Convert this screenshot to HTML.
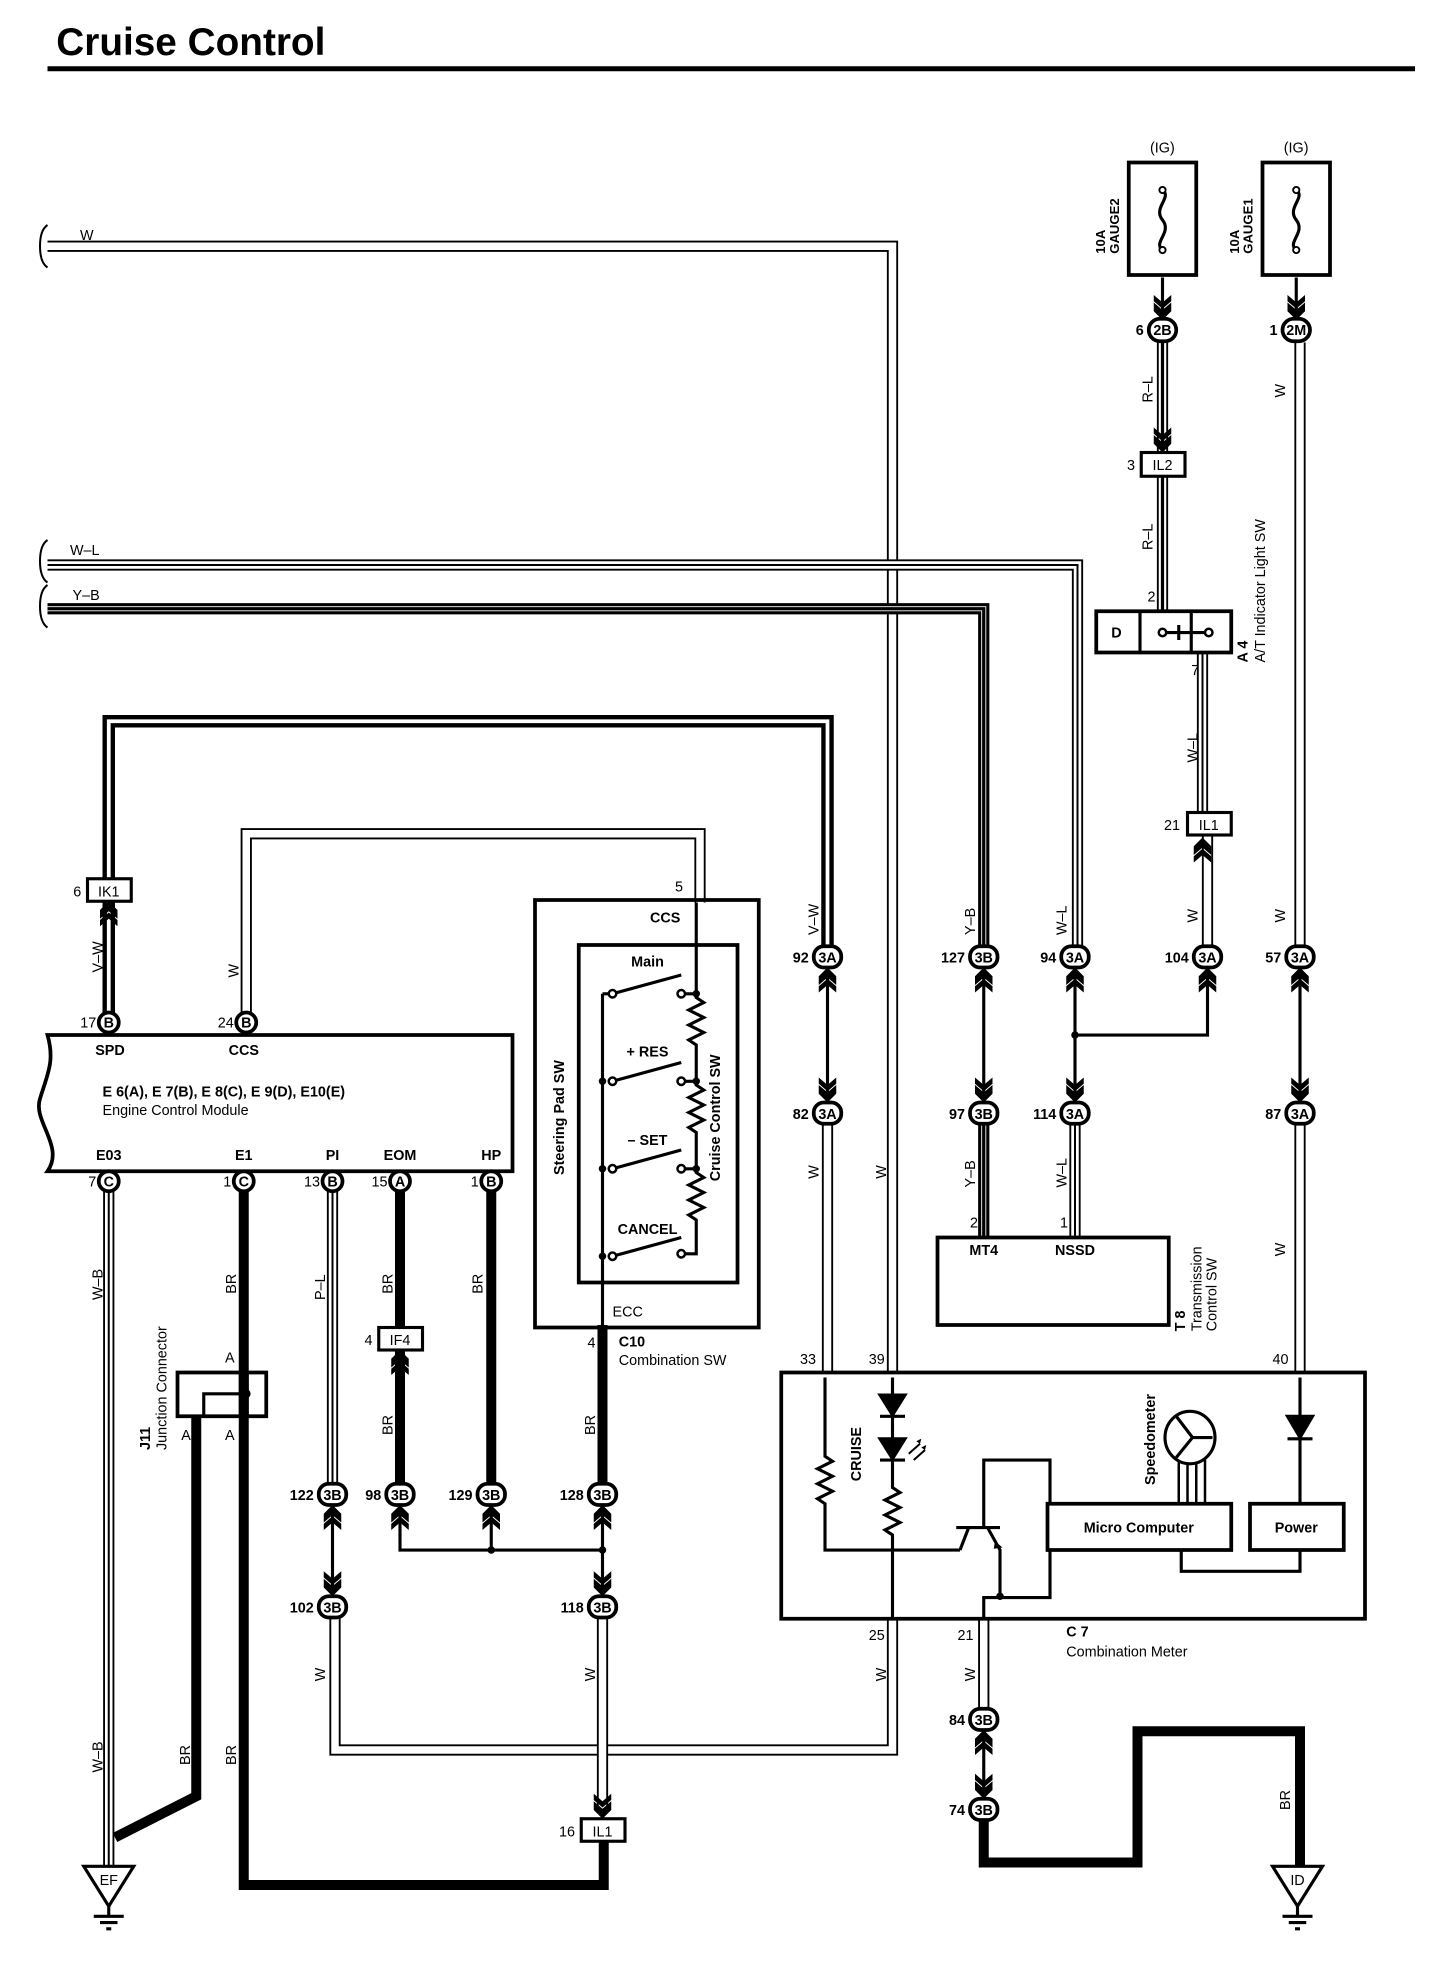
<!DOCTYPE html>
<html><head><meta charset="utf-8"><style>
html,body{margin:0;padding:0;background:#fff}
svg{display:block}
text{font-family:"Liberation Sans",sans-serif;font-size:11.5px;fill:#000}
.b{font-weight:bold}
.o{stroke:#000;stroke-width:9;fill:none;stroke-linejoin:miter}
.i{stroke:#fff;stroke-width:6;fill:none;stroke-linejoin:miter}
.ib{stroke:#fff;stroke-width:4;fill:none}
.c{stroke:#000;stroke-width:1.6;fill:none}
.cb{stroke:#000;stroke-width:2.6;fill:none}
.k{stroke:#000;stroke-width:8;fill:none;stroke-linejoin:miter}
.t{stroke:#000;stroke-width:2.5;fill:none}
.bx{stroke:#000;stroke-width:3;fill:none}
</style></head><body>
<svg width="1456" height="1974" viewBox="0 0 1164.8 1579.2" xmlns="http://www.w3.org/2000/svg">
<defs>
<path id="pW1" d="M38,197 H714 V1098"/>
<path id="pW2" d="M714,1295 V1400 H268 V1293"/>
<path id="pWL" d="M38,452 H862 V757"/>
<path id="pYB" d="M38,487 H787 V757"/>
<path id="pVW" d="M87,810 V577 H662 V757"/>
<path id="pCCS" d="M197,810 V667 H560 V722"/>
<path id="pR" d="M930,274 V362 M930,381 V489"/>
<path id="pWL2" d="M962,522 V650"/>
<path id="pW104" d="M966,668 V757"/>
<path id="p2M" d="M1040,274 V757"/>
<path id="pW82" d="M662,898 V1098"/>
<path id="pYB2" d="M787,898 V990"/>
<path id="pWL3" d="M860,898 V990"/>
<path id="pW87" d="M1040,898 V1098"/>
<path id="pWB" d="M87,953 V1492"/>
<path id="pPL" d="M266,953 V1187"/>
<path id="pW118" d="M482,1293 V1448"/>
<path id="pW21" d="M787,1295 V1367"/>
<g id="chd"><path d="M-7,-9 L0,-3 L7,-9 L7,-2 L0,5 L-7,-2 Z M-7,-15 L0,-9 L7,-15 L7,-10 L0,-4 L-7,-10 Z" fill="#000"/></g>
<g id="chu"><path d="M-7,9 L0,3 L7,9 L7,2 L0,-5 L-7,2 Z M-7,15 L0,9 L7,15 L7,10 L0,4 L-7,10 Z" fill="#000"/></g>
</defs>

<text x="45" y="44" class="b" style="font-size:31px">Cruise Control</text>
<rect x="38" y="53" width="1094" height="4" fill="#000"/>

<path d="M38,180 q-6,4 -6,17 q0,13 6,17" class="c"/>
<path d="M38,432 q-6,4 -6,17 q0,13 6,17" class="c"/>
<path d="M38,468 q-6,4 -6,17 q0,13 6,17" class="c"/>
<text x="64" y="192">W</text>
<text x="56" y="444">W–L</text>
<text x="58" y="480">Y–B</text>

<use href="#pW1" class="o"/><use href="#pW1" class="i"/>
<use href="#pW2" class="o"/><use href="#pW2" class="i"/>
<use href="#pWL" class="o"/><use href="#pWL" class="i"/><use href="#pWL" class="c"/>
<use href="#pYB" class="o"/><use href="#pYB" class="ib"/><use href="#pYB" class="cb"/>
<use href="#pVW" class="o" style="stroke-width:10"/><use href="#pVW" class="i" style="stroke-width:3"/>
<use href="#pCCS" class="o"/><use href="#pCCS" class="i"/>
<use href="#pR" class="o"/><use href="#pR" class="i"/><use href="#pR" class="cb"/>
<use href="#pWL2" class="o"/><use href="#pWL2" class="i"/><use href="#pWL2" class="c"/>
<use href="#pW104" class="o"/><use href="#pW104" class="i"/>
<use href="#p2M" class="o"/><use href="#p2M" class="i"/>
<use href="#pW82" class="o"/><use href="#pW82" class="i"/>
<use href="#pYB2" class="o"/><use href="#pYB2" class="ib"/><use href="#pYB2" class="cb"/>
<use href="#pWL3" class="o"/><use href="#pWL3" class="i"/><use href="#pWL3" class="c"/>
<use href="#pW87" class="o"/><use href="#pW87" class="i"/>
<use href="#pWB" class="o"/><use href="#pWB" class="i"/><use href="#pWB" class="c"/>
<use href="#pPL" class="o"/><use href="#pPL" class="i"/><use href="#pPL" class="c"/>
<use href="#pW118" class="o"/><use href="#pW118" class="i"/>
<use href="#pW21" class="o"/><use href="#pW21" class="i"/>

<path d="M195,953 V1508 H483 V1473" class="k"/>
<path d="M157,1133 V1437 L92,1470" class="k"/>
<path d="M320,953 V1062 M320,1080 V1187" class="k"/>
<path d="M393,953 V1187" class="k"/>
<path d="M482,1060 V1187" class="k"/>
<path d="M787,1455 V1490 H910 V1385 H1040 V1493" class="k"/>

<path d="M662,773 V882 M787,773 V882 M860,773 V882 M966,773 V828 H860 M1040,773 V882" class="t"/>
<circle cx="860" cy="828" r="3" fill="#000"/>
<path d="M266,1203 V1277 M320,1203 V1240 H482 M393,1203 V1240 M482,1203 V1277 M787,1383 V1439" class="t"/>
<circle cx="393" cy="1240" r="3" fill="#000"/><circle cx="482" cy="1240" r="3" fill="#000"/>
<path d="M930,222 V250 M1037,222 V250" class="t"/>

<text x="920" y="122">(IG)</text><text x="1027" y="122">(IG)</text>
<rect x="903" y="130" width="54" height="90" class="bx"/>
<rect x="1010" y="130" width="54" height="90" class="bx"/>
<path d="M930,152 c8,6 -8,14 0,24 c8,10 -8,18 0,24" class="t"/>
<circle cx="930" cy="152" r="2.5" fill="#fff" stroke="#000" stroke-width="1.5"/><circle cx="930" cy="200" r="2.5" fill="#fff" stroke="#000" stroke-width="1.5"/>
<path d="M1037,152 c8,6 -8,14 0,24 c8,10 -8,18 0,24" class="t"/>
<circle cx="1037" cy="152" r="2.5" fill="#fff" stroke="#000" stroke-width="1.5"/><circle cx="1037" cy="200" r="2.5" fill="#fff" stroke="#000" stroke-width="1.5"/>
<text transform="translate(884,203) rotate(-90)" class="b" style="font-size:10.5px">10A</text>
<text transform="translate(895,203) rotate(-90)" class="b" style="font-size:10.5px">GAUGE2</text>
<text transform="translate(991,203) rotate(-90)" class="b" style="font-size:10.5px">10A</text>
<text transform="translate(1002,203) rotate(-90)" class="b" style="font-size:10.5px">GAUGE1</text>

<g fill="#fff" stroke="#000" stroke-width="3">
<rect x="919" y="255" width="22" height="18" rx="9"/>
<rect x="1026" y="255" width="22" height="18" rx="9"/>
<rect x="651" y="757" width="22" height="17" rx="8"/>
<rect x="776" y="757" width="22" height="17" rx="8"/>
<rect x="849" y="757" width="22" height="17" rx="8"/>
<rect x="955" y="757" width="22" height="17" rx="8"/>
<rect x="1029" y="757" width="22" height="17" rx="8"/>
<rect x="651" y="882" width="22" height="17" rx="8"/>
<rect x="776" y="882" width="22" height="17" rx="8"/>
<rect x="849" y="882" width="22" height="17" rx="8"/>
<rect x="1029" y="882" width="22" height="17" rx="8"/>
<rect x="255" y="1187" width="22" height="17" rx="8"/>
<rect x="309" y="1187" width="22" height="17" rx="8"/>
<rect x="382" y="1187" width="22" height="17" rx="8"/>
<rect x="471" y="1187" width="22" height="17" rx="8"/>
<rect x="255" y="1277" width="22" height="17" rx="8"/>
<rect x="471" y="1277" width="22" height="17" rx="8"/>
<rect x="776" y="1367" width="22" height="17" rx="8"/>
<rect x="776" y="1439" width="22" height="17" rx="8"/>
<circle cx="87" cy="818" r="8"/><circle cx="197" cy="818" r="8"/>
<circle cx="87" cy="945" r="8"/><circle cx="195" cy="945" r="8"/><circle cx="266" cy="945" r="8"/><circle cx="320" cy="945" r="8"/><circle cx="393" cy="945" r="8"/>
</g>
<g class="b" style="font-size:10px" text-anchor="middle">
<text x="930" y="268">2B</text><text x="1037" y="268">2M</text>
<text x="662" y="770">3A</text><text x="787" y="770">3B</text><text x="860" y="770">3A</text><text x="966" y="770">3A</text><text x="1040" y="770">3A</text>
<text x="662" y="895">3A</text><text x="787" y="895">3B</text><text x="860" y="895">3A</text><text x="1040" y="895">3A</text>
<text x="266" y="1200">3B</text><text x="320" y="1200">3B</text><text x="393" y="1200">3B</text><text x="482" y="1200">3B</text>
<text x="266" y="1290">3B</text><text x="482" y="1290">3B</text>
<text x="787" y="1380">3B</text><text x="787" y="1452">3B</text>
<text x="87" y="822">B</text><text x="197" y="822">B</text>
<text x="87" y="949">C</text><text x="195" y="949">C</text><text x="266" y="949">B</text><text x="320" y="949">A</text><text x="393" y="949">B</text>
</g>
<g class="b" text-anchor="end">
<text x="915" y="268">6</text><text x="1022" y="268">1</text>
<text x="647" y="770">92</text><text x="772" y="770">127</text><text x="845" y="770">94</text><text x="951" y="770">104</text><text x="1025" y="770">57</text>
<text x="647" y="895">82</text><text x="772" y="895">97</text><text x="845" y="895">114</text><text x="1025" y="895">87</text>
<text x="251" y="1200">122</text><text x="305" y="1200">98</text><text x="378" y="1200">129</text><text x="467" y="1200">128</text>
<text x="251" y="1290">102</text><text x="467" y="1290">118</text>
<text x="772" y="1380">84</text><text x="772" y="1452">74</text>
</g>
<g text-anchor="end">
<text x="77" y="822">17</text><text x="187" y="822">24</text>
<text x="77" y="949">7</text><text x="185" y="949">1</text><text x="256" y="949">13</text><text x="310" y="949">15</text><text x="383" y="949">1</text>
</g>

<use href="#chd" x="930" y="251"/><use href="#chd" x="1037" y="251"/>
<use href="#chd" x="930" y="357"/>
<use href="#chu" x="962" y="675"/>
<use href="#chu" x="87" y="726"/>
<use href="#chu" x="662" y="779"/><use href="#chu" x="787" y="779"/><use href="#chu" x="860" y="779"/><use href="#chu" x="966" y="779"/><use href="#chu" x="1040" y="779"/>
<use href="#chd" x="662" y="877"/><use href="#chd" x="787" y="877"/><use href="#chd" x="860" y="877"/><use href="#chd" x="1040" y="877"/>
<use href="#chu" x="320" y="1085"/>
<use href="#chu" x="266" y="1209"/><use href="#chu" x="320" y="1209"/><use href="#chu" x="393" y="1209"/><use href="#chu" x="482" y="1209"/>
<use href="#chd" x="266" y="1272"/><use href="#chd" x="482" y="1272"/>
<use href="#chd" x="482" y="1450"/>
<use href="#chu" x="787" y="1389"/><use href="#chd" x="787" y="1434"/>

<g fill="#fff" stroke="#000" stroke-width="2.5">
<rect x="913" y="362" width="35" height="19"/>
<rect x="950" y="650" width="35" height="18"/>
<rect x="70" y="703" width="35" height="18"/>
<rect x="303" y="1062" width="35" height="18"/>
<rect x="465" y="1455" width="35" height="18"/>
</g>
<g text-anchor="middle">
<text x="930" y="376">IL2</text><text x="967" y="664">IL1</text><text x="87" y="717">IK1</text><text x="320" y="1076">IF4</text><text x="482" y="1469">IL1</text>
</g>
<g text-anchor="end">
<text x="908" y="376">3</text><text x="944" y="664">21</text><text x="65" y="717">6</text><text x="298" y="1076">4</text><text x="460" y="1469">16</text>
</g>

<rect x="877" y="489" width="108" height="33" class="bx" fill="#fff"/>
<path d="M912,489 V522 M953,489 V522" class="t"/>
<text x="889" y="510" class="b">D</text>
<path d="M930,506 H967 M943,500 V512" class="t"/>
<circle cx="930" cy="506" r="3" fill="#fff" stroke="#000" stroke-width="2"/>
<circle cx="967" cy="506" r="3" fill="#fff" stroke="#000" stroke-width="2"/>
<text x="918" y="481">2</text><text x="953" y="540">7</text>
<text transform="translate(998,530) rotate(-90)" class="b">A 4</text>
<text transform="translate(1012,530) rotate(-90)">A/T Indicator Light SW</text>

<path d="M38,828 H410 V937 H38 c14,-20 -12,-40 -6,-58 c6,-20 12,-30 6,-51 Z" class="bx" fill="none"/>
<g text-anchor="middle" class="b">
<text x="88" y="844">SPD</text><text x="195" y="844">CCS</text>
<text x="87" y="928">E03</text><text x="195" y="928">E1</text><text x="266" y="928">PI</text><text x="320" y="928">EOM</text><text x="393" y="928">HP</text>
</g>
<text x="82" y="877" class="b">E 6(A), E 7(B), E 8(C), E 9(D), E10(E)</text>
<text x="82" y="892">Engine Control Module</text>

<rect x="428" y="720" width="179" height="342" class="bx"/>
<rect x="463" y="756" width="127" height="270" class="bx"/>
<text x="520" y="738" class="b">CCS</text><text x="540" y="713">5</text>
<path d="M557,722 V792 M557,792 v6 l6,4 l-12,6 l12,6 l-12,6 l12,6 l-12,6 l6,4 V862 M557,862 v6 l6,4 l-12,6 l12,6 l-12,6 l12,6 l-12,6 l6,4 V932 M557,932 v6 l6,4 l-12,6 l12,6 l-12,6 l12,6 l-12,6 l6,4 V1003 H548" class="t"/>
<path d="M482,795 V1080" class="t"/>
<g class="t">
<path d="M490,795 L545,780"/><path d="M490,865 L545,850"/><path d="M490,935 L545,920"/><path d="M490,1005 L545,990"/>
</g>
<g fill="#fff" stroke="#000" stroke-width="2">
<circle cx="490" cy="795" r="3"/><circle cx="545" cy="795" r="3"/>
<circle cx="490" cy="865" r="3"/><circle cx="545" cy="865" r="3"/>
<circle cx="490" cy="935" r="3"/><circle cx="545" cy="935" r="3"/>
<circle cx="490" cy="1005" r="3"/><circle cx="545" cy="1003" r="3"/>
</g>
<path d="M548,795 H557 M548,865 H557 M548,935 H557 M482,795 H487" class="t"/>
<g fill="#000"><circle cx="557" cy="795" r="3"/><circle cx="557" cy="865" r="3"/><circle cx="557" cy="935" r="3"/><circle cx="482" cy="865" r="3"/><circle cx="482" cy="935" r="3"/><circle cx="482" cy="1005" r="3"/></g>
<g class="b" text-anchor="middle">
<text x="518" y="773">Main</text><text x="518" y="845">+ RES</text><text x="518" y="916">– SET</text><text x="518" y="987">CANCEL</text>
</g>
<text transform="translate(451,940) rotate(-90)" class="b">Steering Pad SW</text>
<text transform="translate(576,945) rotate(-90)" class="b">Cruise Control SW</text>
<text x="490" y="1053">ECC</text>
<text x="470" y="1078">4</text>
<text x="495" y="1077" class="b">C10</text>
<text x="495" y="1092">Combination SW</text>

<rect x="142" y="1098" width="71" height="35" class="bx" fill="#fff"/>
<path d="M195,1098 V1133" class="k"/>
<path d="M197,1115 H163 V1133" class="t"/>
<circle cx="197" cy="1115" r="3.5" fill="#000"/>
<text x="180" y="1090">A</text><text x="145" y="1152">A</text><text x="180" y="1152">A</text>
<text transform="translate(120,1160) rotate(-90)" class="b">J11</text>
<text transform="translate(133,1160) rotate(-90)">Junction Connector</text>

<rect x="750" y="990" width="185" height="70" class="bx"/>
<text x="787" y="1004" class="b" text-anchor="middle">MT4</text>
<text x="860" y="1004" class="b" text-anchor="middle">NSSD</text>
<text x="776" y="982">2</text><text x="848" y="982">1</text>
<text transform="translate(948,1065) rotate(-90)" class="b">T 8</text>
<text transform="translate(961,1065) rotate(-90)">Transmission</text>
<text transform="translate(973,1065) rotate(-90)">Control SW</text>

<rect x="625" y="1098" width="467" height="197" class="bx"/>
<text x="640" y="1091">33</text><text x="695" y="1091">39</text><text x="1018" y="1091">40</text>
<text x="695" y="1312">25</text><text x="766" y="1312">21</text>
<text x="853" y="1309" class="b">C 7</text>
<text x="853" y="1325">Combination Meter</text>
<path d="M660,1102 V1165 l6,4 l-12,6 l12,6 l-12,6 l12,6 l-12,6 l6,4 V1240 H768" class="t"/>
<path d="M714,1102 V1190 l6,4 l-12,6 l12,6 l-12,6 l12,6 l-12,6 l6,4 V1295" class="t"/>
<path d="M704,1116 H724 L714,1132 Z M704,1133 H724" fill="#000" stroke="#000" stroke-width="2.5"/>
<path d="M704,1151 H724 L714,1167 Z M704,1168 H724" fill="#000" stroke="#000" stroke-width="2.5"/>
<path d="M727,1163 l9,-8 M731,1168 l9,-8" class="c"/>
<path d="M733,1153 l4,-2 l-1,4 Z M737,1158 l4,-2 l-1,4 Z" fill="#000"/>
<text transform="translate(689,1185) rotate(-90)" class="b">CRUISE</text>
<path d="M765,1222 H800 M787,1222 V1168 H840 V1202 M775,1222 L768,1240 M790,1222 L800,1240 V1277 M787,1295 V1278 H840 V1240" class="t"/>
<path d="M796,1233 l6,5 l-7,1 Z" fill="#000"/>
<circle cx="800" cy="1277" r="3" fill="#000"/>
<rect x="838" y="1203" width="147" height="37" class="bx" fill="#fff"/>
<text x="911" y="1226" text-anchor="middle" class="b">Micro Computer</text>
<rect x="1000" y="1203" width="75" height="37" class="bx" fill="#fff"/>
<text x="1037" y="1226" text-anchor="middle" class="b">Power</text>
<path d="M945,1240 V1257 H1040 V1240" class="t"/>
<path d="M1040,1102 V1203" class="t"/>
<path d="M1030,1133 H1050 L1040,1150 Z M1030,1151 H1050" fill="#000" stroke="#000" stroke-width="2.5"/>
<ellipse cx="952" cy="1150" rx="20" ry="21" class="t"/>
<path d="M941,1133 L954,1150 L941,1166 M954,1150 H970" class="t"/>
<path d="M943,1170 V1203 M950,1171 V1203 M957,1171 V1203 M964,1168 V1203" class="c" style="stroke-width:2"/>
<text transform="translate(924,1188) rotate(-90)" class="b">Speedometer</text>

<g transform="translate(87,1493)">
<path d="M-20,0 H20 L0,32 Z" class="t" fill="#fff"/>
<text x="0" y="15" text-anchor="middle">EF</text>
<path d="M0,32 V40 M-12,40 H12 M-7,45 H7 M-2,50 H2" class="t"/>
</g>
<g transform="translate(1038,1493)">
<path d="M-20,0 H20 L0,32 Z" class="t" fill="#fff"/>
<text x="0" y="15" text-anchor="middle">ID</text>
<path d="M0,32 V40 M-12,40 H12 M-7,45 H7 M-2,50 H2" class="t"/>
</g>

<g>
<text transform="translate(922,322) rotate(-90)">R–L</text>
<text transform="translate(922,440) rotate(-90)">R–L</text>
<text transform="translate(1028,318) rotate(-90)">W</text>
<text transform="translate(1028,738) rotate(-90)">W</text>
<text transform="translate(958,610) rotate(-90)">W–L</text>
<text transform="translate(958,738) rotate(-90)">W</text>
<text transform="translate(82,778) rotate(-90)">V–W</text>
<text transform="translate(191,782) rotate(-90)">W</text>
<text transform="translate(655,748) rotate(-90)">V–W</text>
<text transform="translate(780,748) rotate(-90)">Y–B</text>
<text transform="translate(853,748) rotate(-90)">W–L</text>
<text transform="translate(655,943) rotate(-90)">W</text>
<text transform="translate(709,943) rotate(-90)">W</text>
<text transform="translate(780,950) rotate(-90)">Y–B</text>
<text transform="translate(853,950) rotate(-90)">W–L</text>
<text transform="translate(1028,1005) rotate(-90)">W</text>
<text transform="translate(82,1040) rotate(-90)">W–B</text>
<text transform="translate(189,1035) rotate(-90)">BR</text>
<text transform="translate(260,1040) rotate(-90)">P–L</text>
<text transform="translate(314,1035) rotate(-90)">BR</text>
<text transform="translate(386,1035) rotate(-90)">BR</text>
<text transform="translate(314,1148) rotate(-90)">BR</text>
<text transform="translate(476,1148) rotate(-90)">BR</text>
<text transform="translate(260,1345) rotate(-90)">W</text>
<text transform="translate(476,1345) rotate(-90)">W</text>
<text transform="translate(709,1345) rotate(-90)">W</text>
<text transform="translate(780,1345) rotate(-90)">W</text>
<text transform="translate(82,1418) rotate(-90)">W–B</text>
<text transform="translate(152,1412) rotate(-90)">BR</text>
<text transform="translate(189,1412) rotate(-90)">BR</text>
<text transform="translate(1032,1448) rotate(-90)">BR</text>
</g>
</svg>
</body></html>
